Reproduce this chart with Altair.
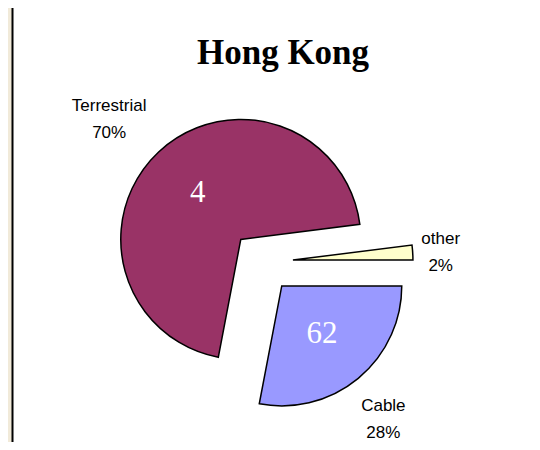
import altair as alt
import pandas as pd

# ---- data ----
categories = ["Cable", "Terrestrial", "other"]
shares = [28, 70, 2]
inner_labels = ["62", "4", ""]
colors = ["#9999FF", "#993366", "#FFFFCC"]
title_text = "Hong Kong"

df = pd.DataFrame({"category": categories, "share": shares, "inner": inner_labels})

# ---- layout constants ----
W, H = 524, 434
CX, CY = 254, 254
R = 120
EXPLODE = 31
R_IN = 63
R_OUT_X = 128
R_OUT_Y = 169
LINE_H = 27

base = (
    alt.Chart(df)
    .transform_window(cum="sum(share)", frame=[None, 0])
    .transform_joinaggregate(total="sum(share)")
    .transform_calculate(a1="PI/2 + 2*PI*datum.cum/datum.total")
    .transform_calculate(a0="datum.a1 - 2*PI*datum.share/datum.total")
    .transform_calculate(mid="(datum.a0 + datum.a1)/2")
    .transform_calculate(
        px=f"{CX} + {EXPLODE}*sin(datum.mid)",
        py=f"{CY} - {EXPLODE}*cos(datum.mid)",
    )
    .transform_calculate(
        ix=f"datum.px + {R_IN}*sin(datum.mid)",
        iy=f"datum.py - {R_IN}*cos(datum.mid)",
        lx=f"datum.px + {R_OUT_X}*sin(datum.mid) + (sin(datum.mid) > 0 ? 1 : -1)*4*length(datum.category)",
        ly=f"datum.py - {R_OUT_Y}*cos(datum.mid) - 10.5",
        label="datum.category + '\\n' + datum.share + '%'",
    )
)

panel = alt.Chart(pd.DataFrame({"k": [0]})).mark_rect(
    fill="white", stroke="black", strokeWidth=2
).encode(
    x=alt.value(4.5), x2=alt.value(800), y=alt.value(-20), y2=alt.value(800)
)

arcs = base.mark_arc(radius=R, stroke="black", strokeWidth=1.5).encode(
    x=alt.X("px:Q", scale=None, axis=None),
    y=alt.Y("py:Q", scale=None, axis=None),
    theta=alt.Theta("a0:Q", scale=None, stack=None),
    theta2=alt.Theta2("a1:Q"),
    color=alt.Color(
        "category:N",
        scale=alt.Scale(domain=categories, range=colors),
        legend=None,
    ),
)

inner = base.mark_text(
    font="Liberation Serif", fontSize=31, color="white", baseline="middle", align="center"
).encode(
    x=alt.X("ix:Q", scale=None, axis=None),
    y=alt.Y("iy:Q", scale=None, axis=None),
    text="inner:N",
)

outer = base.mark_text(
    font="Liberation Sans",
    fontSize=17,
    lineHeight=LINE_H,
    lineBreak="\n",
    color="black",
    baseline="middle",
    align="center",
).encode(
    x=alt.X("lx:Q", scale=None, axis=None),
    y=alt.Y("ly:Q", scale=None, axis=None),
    text="label:N",
)

title = alt.Chart(pd.DataFrame({"k": [0]})).mark_text(
    text=title_text,
    font="Liberation Serif",
    fontSize=35,
    fontWeight="bold",
    color="black",
    baseline="alphabetic",
    align="center",
).encode(x=alt.value(275), y=alt.value(56))

chart = (
    alt.layer(panel, arcs, inner, outer, title)
    .properties(
        width=W,
        height=H,
        background="#F1EAD9",
        padding=0,
        autosize=alt.AutoSizeParams(type="none"),
    )
    .configure_view(stroke=None)
)

chart.save("out.html", embed_options={"renderer": "svg", "actions": False})
